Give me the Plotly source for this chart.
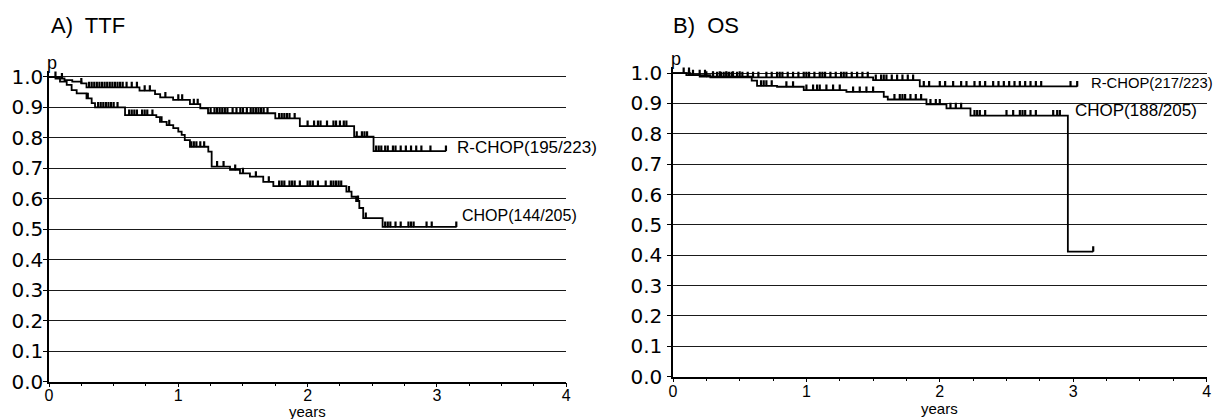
import numpy as np
import plotly.graph_objects as go
from plotly.subplots import make_subplots

# ---------------- data ----------------
# A) TTF  R-CHOP : event times (years) and survival after each event
ttf_rchop_t = [0.05, 0.12, 0.18, 0.25, 0.29, 0.70, 0.82, 0.86, 0.96, 1.09, 1.17, 1.23, 1.75, 1.94, 2.36, 2.51]
ttf_rchop_s = [0.995, 0.99, 0.985, 0.979, 0.966, 0.955, 0.944, 0.933, 0.925, 0.911, 0.897, 0.881, 0.864, 0.839, 0.804, 0.757]
ttf_rchop_end = 3.07
ttf_rchop_cens = [0.10, 0.25, 0.31, 0.33, 0.35, 0.37, 0.39, 0.41, 0.43, 0.45, 0.47, 0.49, 0.51, 0.53,
                  0.55, 0.57, 0.60, 0.64, 0.68, 0.74, 0.78, 0.90, 1.00, 1.03, 1.12, 1.15, 1.25, 1.28,
                  1.30, 1.32, 1.34, 1.36, 1.38, 1.42, 1.45, 1.48, 1.50, 1.53, 1.56, 1.58, 1.60, 1.62,
                  1.64, 1.66, 1.69, 1.78, 1.80, 1.82, 1.84, 1.86, 1.90, 2.00, 2.05, 2.08, 2.10, 2.15,
                  2.20, 2.22, 2.25, 2.28, 2.30, 2.38, 2.42, 2.44, 2.46, 2.53, 2.55, 2.57, 2.60, 2.62,
                  2.66, 2.68, 2.72, 2.76, 2.80, 2.84, 2.88, 2.95, 3.07]

# A) TTF  CHOP
ttf_chop_t = [0.085, 0.137, 0.175, 0.214, 0.29, 0.33, 0.356, 0.588, 0.83, 0.858, 0.91, 0.961, 1.0,
              1.026, 1.05, 1.09, 1.232, 1.258, 1.40, 1.477, 1.554, 1.657, 1.735, 2.30, 2.34, 2.375,
              2.40, 2.43, 2.58]
ttf_chop_s = [0.985, 0.974, 0.957, 0.946, 0.930, 0.914, 0.900, 0.875, 0.868, 0.853, 0.842, 0.832, 0.821,
              0.810, 0.793, 0.771, 0.755, 0.706, 0.695, 0.684, 0.673, 0.656, 0.642, 0.624, 0.607, 0.593,
              0.570, 0.537, 0.508]
ttf_chop_end = 3.15
ttf_chop_cens = [0.05, 0.30, 0.38, 0.40, 0.42, 0.44, 0.46, 0.48, 0.50, 0.53, 0.62, 0.64, 0.66, 0.68,
                 0.72, 0.74, 0.76, 0.80, 0.87, 0.93, 1.10, 1.12, 1.14, 1.17, 1.20, 1.30, 1.35, 1.44,
                 1.50, 1.60, 1.70, 1.78, 1.80, 1.82, 1.86, 1.88, 1.90, 1.94, 2.00, 2.02, 2.04, 2.08,
                 2.14, 2.18, 2.20, 2.22, 2.24, 2.26, 2.32, 2.39, 2.45, 2.60, 2.62, 2.64, 2.68, 2.72,
                 2.78, 2.80, 2.82, 2.92, 2.96, 3.15]

# B) OS  R-CHOP
os_rchop_t = [0.13, 0.28, 1.50, 1.85]
os_rchop_s = [0.993, 0.986, 0.977, 0.956]
os_rchop_end = 3.03
os_rchop_cens = [0.08, 0.12, 0.15, 0.20, 0.24, 0.30, 0.33, 0.36, 0.38, 0.40, 0.42, 0.44, 0.48, 0.52,
                 0.56, 0.60, 0.64, 0.70, 0.74, 0.78, 0.80, 0.82, 0.86, 0.90, 0.94, 0.98, 1.00, 1.02,
                 1.06, 1.10, 1.12, 1.14, 1.18, 1.22, 1.26, 1.28, 1.30, 1.34, 1.38, 1.42, 1.46, 1.52,
                 1.56, 1.58, 1.60, 1.64, 1.68, 1.72, 1.76, 1.80, 1.88, 1.92, 2.00, 2.04, 2.10, 2.16,
                 2.20, 2.26, 2.30, 2.34, 2.40, 2.44, 2.48, 2.52, 2.56, 2.60, 2.64, 2.68, 2.72, 2.76,
                 2.98, 3.03]

# B) OS  CHOP
os_chop_t = [0.10, 0.20, 0.59, 0.63, 0.78, 0.98, 1.30, 1.58, 1.61, 1.90, 2.05, 2.23, 2.96]
os_chop_s = [0.993, 0.988, 0.975, 0.958, 0.955, 0.944, 0.938, 0.922, 0.913, 0.897, 0.884, 0.860, 0.412]
os_chop_end = 3.15
os_chop_cens = [0.12, 0.25, 0.30, 0.35, 0.40, 0.45, 0.50, 0.66, 0.68, 0.70, 0.74, 0.85, 0.90, 1.00,
                1.05, 1.08, 1.10, 1.15, 1.20, 1.25, 1.35, 1.40, 1.45, 1.50, 1.66, 1.70, 1.72, 1.74,
                1.78, 1.82, 1.86, 1.93, 1.97, 2.00, 2.08, 2.12, 2.16, 2.26, 2.28, 2.30, 2.34, 2.50,
                2.55, 2.60, 2.62, 2.64, 2.68, 2.72, 2.85, 2.88, 2.90, 3.15]

panel_titles = ["A)  TTF", "B)  OS"]
curve_labels = {
    "ttf_rchop": "R-CHOP(195/223)",
    "ttf_chop": "CHOP(144/205)",
    "os_rchop": "R-CHOP(217/223)",
    "os_chop": "CHOP(188/205)",
}
y_ticks = [0.0, 0.1, 0.2, 0.3, 0.4, 0.5, 0.6, 0.7, 0.8, 0.9, 1.0]
y_ticktext = ["0.0", "0.1", "0.2", "0.3", "0.4", "0.5", "0.6", "0.7", "0.8", "0.9", "1.0"]
x_ticks = [0, 1, 2, 3, 4]
x_ticktext = ["0", "1", "2", "3", "4"]

# ---------------- figure ----------------
fig = make_subplots(rows=1, cols=2)
OFF = 8                       # page body margin in the browser
W, H = 1222 - OFF, 419 - OFF  # figure size so that it fills the window


def px(x):   # window pixel x -> paper fraction
    return (x - OFF) / W


def py(y):   # window pixel y -> paper fraction
    return (OFF + H - y) / H


def km_xy(times, surv, end):
    xs = [0.0] + list(times) + [end]
    ys = [1.0] + list(surv) + [surv[-1]]
    return xs, ys


def km_eval(times, surv, tq):
    times = np.asarray(times)
    surv_full = np.concatenate([[1.0], np.asarray(surv)])
    idx = np.searchsorted(times, np.asarray(tq), side="right")
    return surv_full[idx]


curves = [
    (1, ttf_rchop_t, ttf_rchop_s, ttf_rchop_end, ttf_rchop_cens),
    (1, ttf_chop_t, ttf_chop_s, ttf_chop_end, ttf_chop_cens),
    (2, os_rchop_t, os_rchop_s, os_rchop_end, os_rchop_cens),
    (2, os_chop_t, os_chop_s, os_chop_end, os_chop_cens),
]
for col, t, s, end, cens in curves:
    xs, ys = km_xy(t, s, end)
    fig.add_trace(go.Scatter(x=xs, y=ys, mode="lines", line=dict(color="black", width=1.8, shape="hv"),
                             showlegend=False, hoverinfo="skip"), row=1, col=col)
    cy = km_eval(t, s, cens)
    n = len(cens)
    fig.add_trace(go.Scatter(x=cens, y=cy, mode="markers",
                             marker=dict(size=1, color="black"),
                             error_y=dict(type="data", symmetric=False, array=[0.018] * n,
                                          arrayminus=[0] * n, width=0, thickness=2.2, color="black"),
                             showlegend=False, hoverinfo="skip"), row=1, col=col)

tick_font = dict(family="DejaVu Sans, Liberation Sans, sans-serif", size=20, color="black")
xtick_font = dict(family="Liberation Sans, Arial, sans-serif", size=16, color="black")

domains_x = [[px(49), px(566.2)], [px(673), px(1206.6)]]
domains_y = [[py(381.7), py(70.9)], [py(376.7), py(67.0)]]
ystandoff = [-4, 1]
xstandoff = [-6, -5]
years_y = [411.5, 408]

for i in range(2):
    xa = "xaxis" if i == 0 else "xaxis2"
    ya = "yaxis" if i == 0 else "yaxis2"
    fig.layout[xa].update(domain=domains_x[i], range=[0, 4], tickvals=x_ticks, ticktext=x_ticktext,
                          showgrid=False, zeroline=False, showline=True, linecolor="black", linewidth=1.5,
                          ticks="outside", ticklen=4, tickwidth=1.2, tickcolor="black",
                          minor=dict(dtick=0.25, ticks="outside", ticklen=3, tickcolor="black", tickwidth=1),
                          tickfont=xtick_font, ticklabelstandoff=xstandoff[i], automargin=False,
                          fixedrange=True)
    fig.layout[ya].update(domain=domains_y[i], range=[0, 1.02], tickvals=y_ticks, ticktext=y_ticktext,
                          showgrid=True, gridcolor="#1a1a1a", gridwidth=1.2, zeroline=False,
                          showline=True, linecolor="black", linewidth=1.5,
                          ticks="outside", ticklen=4, tickwidth=1.2, tickcolor="black",
                          tickfont=tick_font, ticklabelstandoff=ystandoff[i],
                          automargin=False, fixedrange=True)

ann = []
title_font = dict(family="Liberation Sans, Arial, sans-serif", size=22, color="black")
ann.append(dict(text=panel_titles[0], x=px(49), y=py(26), xref="paper", yref="paper",
                xanchor="left", yanchor="middle", showarrow=False, font=title_font))
ann.append(dict(text=panel_titles[1], x=px(671), y=py(26), xref="paper", yref="paper",
                xanchor="left", yanchor="middle", showarrow=False, font=title_font))
p_font = dict(family="Liberation Sans, Arial, sans-serif", size=18, color="black")
for i, (xr, yr) in enumerate([("x", "y"), ("x2", "y2")]):
    ann.append(dict(text="p", x=0.02, y=1.02, xref=xr, yref=yr, xanchor="center", yanchor="bottom",
                    showarrow=False, font=p_font, yshift=-4))
    ann.append(dict(text="years", x=2, y=py(years_y[i]), xref=xr, yref="paper", xanchor="center",
                    yanchor="middle", showarrow=False,
                    font=dict(family="Liberation Sans, Arial, sans-serif", size=15, color="black")))

for key, xr, yr, xv, yv, fs in [("ttf_rchop", "x", "y", 3.14, 0.767, 17),
                                ("ttf_chop", "x", "y", 3.18, 0.547, 16),
                                ("os_rchop", "x2", "y2", 3.12, 0.968, 14.8),
                                ("os_chop", "x2", "y2", 3.0, 0.878, 17)]:
    ann.append(dict(text=curve_labels[key], x=xv, y=yv, xref=xr, yref=yr, xanchor="left",
                    yanchor="middle", showarrow=False,
                    font=dict(family="Liberation Sans, Arial, sans-serif", size=fs, color="black")))

fig.update_layout(width=W, height=H, margin=dict(l=0, r=0, t=0, b=0), paper_bgcolor="white",
                  plot_bgcolor="white", annotations=ann, showlegend=False)

fig.write_html("out.html")
